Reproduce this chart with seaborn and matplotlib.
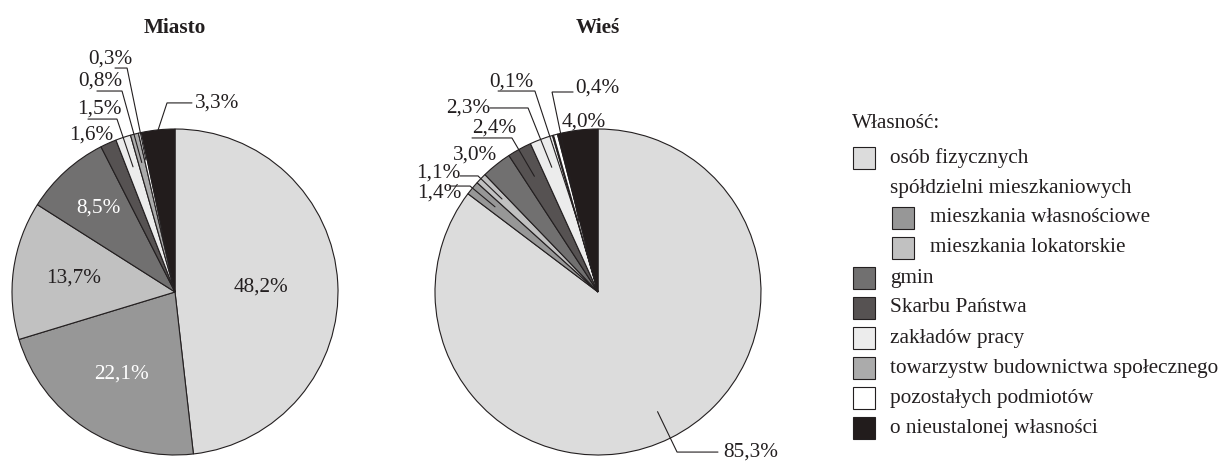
import numpy as np
import matplotlib
matplotlib.use("Agg")
import matplotlib.pyplot as plt
from matplotlib.patches import Rectangle
import seaborn as sns

# ---- data -------------------------------------------------------------
categories = [
    "osób fizycznych",
    "mieszkania własnościowe",
    "mieszkania lokatorskie",
    "gmin",
    "Skarbu Państwa",
    "zakładów pracy",
    "towarzystw budownictwa społecznego",
    "pozostałych podmiotów",
    "o nieustalonej własności",
]
miasto = [48.2, 22.1, 13.7, 8.5, 1.6, 1.5, 0.8, 0.3, 3.3]
wies = [85.3, 1.4, 1.1, 3.0, 2.4, 2.3, 0.1, 0.4, 4.0]
colors = ["#dcdcdc", "#979797", "#c1c1c1", "#717070", "#565252",
          "#ececec", "#ababab", "#ffffff", "#221c1c"]
titles = ["Miasto", "Wieś"]
legend_title = "Własność:"
group_header = "spółdzielni mieszkaniowych"

# ---- style ------------------------------------------------------------
sns.set_theme(style="white")
plt.rcParams["font.family"] = ["Liberation Serif", "DejaVu Serif"]
INK = "#231f20"
FS = 15.3

W, H = 1221, 462
fig = plt.figure(figsize=(W / 100, H / 100), dpi=100)
fig.patch.set_facecolor("white")


def fmt(v):
    return f"{v:.1f}%".replace(".", ",")


def mid_angles(vals):
    vals = np.asarray(vals, dtype=float)
    frac = vals / vals.sum()
    before = np.cumsum(frac) - frac
    return np.deg2rad(90 - (before + frac / 2) * 360)


def pie_axes(cx, cy, r):
    ax = fig.add_axes([(cx - r) / W, (H - cy - r) / H, 2 * r / W, 2 * r / H])
    return ax


def draw_pie(ax, vals, title, inner, leaders, plain):
    ax.pie(vals, colors=colors, startangle=90, counterclock=False,
           radius=1.0,
           wedgeprops=dict(edgecolor=INK, linewidth=0.8))
    ax.set_xlim(-1, 1)
    ax.set_ylim(-1, 1)
    ax.set_aspect("equal")
    ax.axis("off")
    ang = mid_angles(vals)
    ax.text(0, 1.62, title, ha="center", va="center", fontsize=FS,
            fontweight="bold", color=INK, clip_on=False)
    # labels sitting inside their slice
    for i, rr, col in inner:
        ax.text(rr * np.cos(ang[i]), rr * np.sin(ang[i]), fmt(vals[i]),
                ha="center", va="center", fontsize=FS, color=col)
    # labels placed next to a slice without a leader
    for i, (tx, ty) in plain:
        ax.text(tx, ty, fmt(vals[i]), ha="center", va="center",
                fontsize=FS, color=INK, clip_on=False)
    # labels with a bent leader line
    for i, ar, (ex, ey), endx, (tx, ty), ha in leaders:
        axp, ayp = ar * np.cos(ang[i]), ar * np.sin(ang[i])
        ax.plot([axp, ex, endx], [ayp, ey, ey], color=INK, lw=0.8,
                clip_on=False, solid_joinstyle="miter")
        ax.text(tx, ty, fmt(vals[i]), ha=ha, va="center", fontsize=FS,
                color=INK, clip_on=False)


# ---- Miasto -------------------------------------------------------------
ax1 = pie_axes(175, 292, 163)
draw_pie(
    ax1, miasto, titles[0],
    inner=[(0, 0.53, INK), (1, 0.60, "white"), (2, 0.63, INK), (3, 0.70, "white")],
    leaders=[
        (5, 0.81, (-0.356, 1.061), -0.534, (-0.466, 1.125), "center"),
        (6, 0.82, (-0.325, 1.233), -0.479, (-0.460, 1.297), "center"),
        (7, 0.83, (-0.294, 1.374), -0.368, (-0.399, 1.432), "center"),
        (8, 1.00, (-0.049, 1.160), 0.104, (0.123, 1.160), "left"),
    ],
    plain=[(4, (-0.515, 0.963))],
)

# ---- Wieś ---------------------------------------------------------------
ax2 = pie_axes(598, 292, 163)
draw_pie(
    ax2, wies, titles[1],
    inner=[],
    leaders=[
        (1, 0.82, (-0.785, 0.650), -0.908, (-0.972, 0.607), "center"),
        (2, 0.82, (-0.736, 0.712), -0.847, (-0.979, 0.730), "center"),
        (4, 0.81, (-0.528, 0.945), -0.773, (-0.635, 1.006), "center"),
        (5, 0.816, (-0.429, 1.129), -0.663, (-0.794, 1.129), "center"),
        (6, 0.45, (-0.387, 1.233), -0.613, (-0.531, 1.288), "center"),
        (7, 0.45, (-0.282, 1.227), -0.153, (-0.141, 1.252), "left"),
        (0, 0.82, (0.485, -0.982), 0.736, (0.767, -0.982), "left"),
    ],
    plain=[(3, (-0.755, 0.840)), (8, (-0.086, 1.043))],
)

# ---- legend (drawn in pixel space) ---------------------------------------
leg = fig.add_axes([0, 0, 1, 1])
leg.set_xlim(0, W)
leg.set_ylim(H, 0)
leg.axis("off")
leg.patch.set_alpha(0)

leg.text(852, 123, legend_title, ha="left", va="center", fontsize=FS, color=INK)

rows = [(categories[0], 0, 0), (group_header, None, 0)]
rows += [(categories[1], 1, 1), (categories[2], 2, 1)]
rows += [(categories[k], k, 0) for k in range(3, len(categories))]

box = 22
for n, (label, ci, level) in enumerate(rows):
    y = 158 + 30 * n
    px = 853 if level == 0 else 892
    tx = 890 if level == 0 else 930
    if ci is not None:
        leg.add_patch(Rectangle((px, y - box / 2), box, box,
                                facecolor=colors[ci], edgecolor=INK, lw=0.8))
    leg.text(tx, y, label, ha="left", va="center", fontsize=FS, color=INK)

fig.savefig("out.png", dpi=100, facecolor="white")
